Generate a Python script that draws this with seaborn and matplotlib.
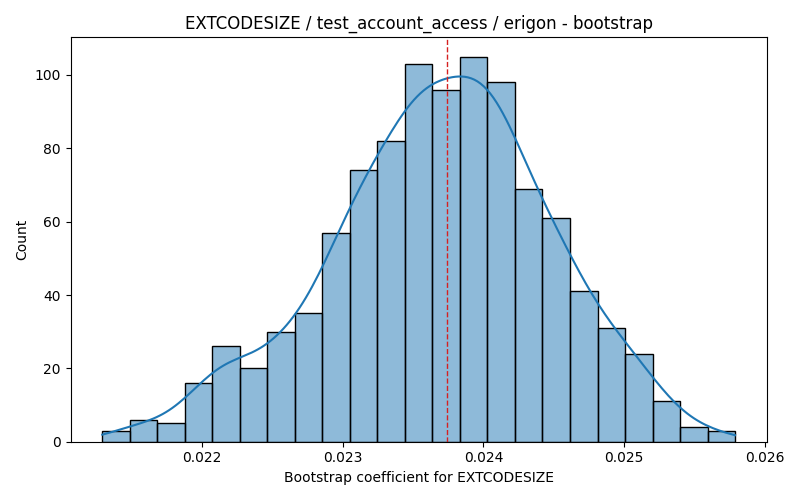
import numpy as np
import pandas as pd
import matplotlib
matplotlib.use("Agg")
import matplotlib.pyplot as plt
import seaborn as sns

# histogram (23 bins, 1000 bootstrap samples)
bin_start = 0.021294
bin_end = 0.025787
counts = [3, 6, 5, 16, 26, 20, 30, 35, 57, 74, 82, 103,
          96, 105, 98, 69, 61, 41, 31, 24, 11, 4, 3]
ref_value = 0.023740

edges = np.linspace(bin_start, bin_end, len(counts) + 1)
centers = (edges[:-1] + edges[1:]) / 2
df = pd.DataFrame({"coef": centers, "n": counts})

# weighted bins give a small effective n, so narrow the bandwidth back
# to what 1000 raw samples would get
w = np.asarray(counts, dtype=float)
n_eff = w.sum() ** 2 / (w ** 2).sum()
bw_adj = (w.sum() / n_eff) ** (-0.2)

fig, ax = plt.subplots(figsize=(8, 5), dpi=100)
sns.histplot(data=df, x="coef", weights="n", bins=len(counts),
             binrange=(bin_start, bin_end), kde=True,
             kde_kws={"bw_adjust": bw_adj * 0.95, "cut": 3,
                      "clip": (bin_start, bin_end)}, ax=ax)
ax.axvline(ref_value, color="#d62020", linestyle="--", linewidth=1)

ax.set_title("EXTCODESIZE / test_account_access / erigon - bootstrap")
ax.set_xlabel("Bootstrap coefficient for EXTCODESIZE")
ax.set_ylabel("Count")

plt.tight_layout()
plt.savefig("out.png", dpi=100)
